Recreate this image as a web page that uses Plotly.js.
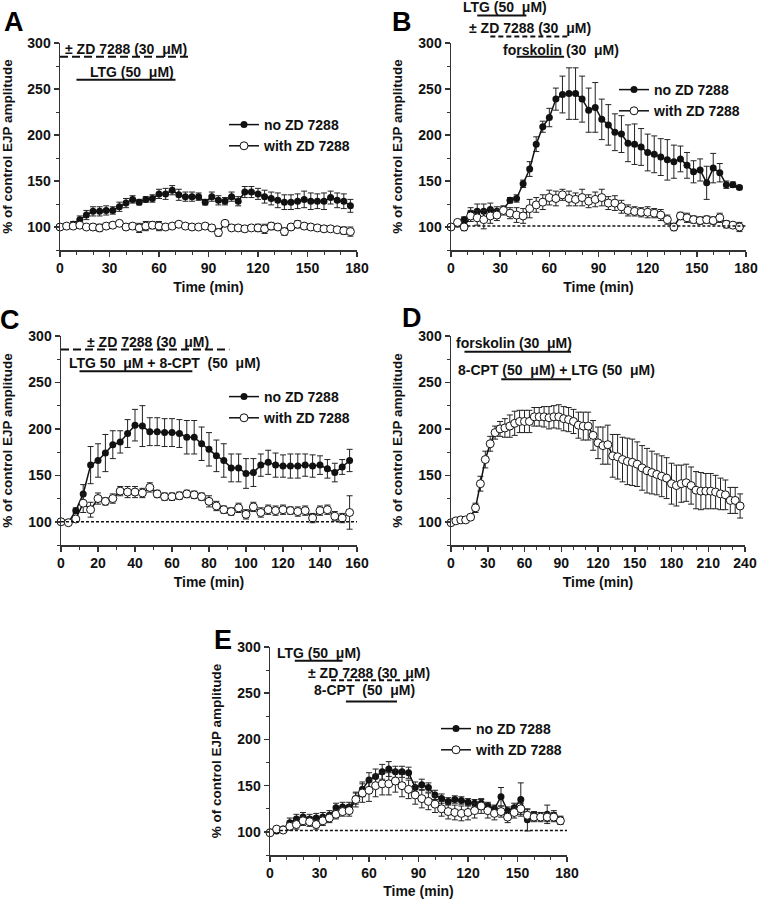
<!DOCTYPE html>
<html>
<head>
<meta charset="utf-8">
<script src="https://cdn.plot.ly/plotly-3.0.1.min.js"></script>
<style>html,body{margin:0;padding:0;background:#fff;}#chart{width:760px;height:899px;}</style>
</head>
<body>
<div id="chart"></div>
<script>
// ---------- data ----------
const timeABE = [0,4,8,12,16,20,24,28,32,36,40,44,48,52,56,60,64,68,72,76,80,84,88,92,96,100,104,108,112,116,120,124,128,132,136,140,144,148,152,156,160,164,168,172,176];
const timeC = [0,4,8,12,16,20,24,28,32,36,40,44,48,52,56,60,64,68,72,76,80,84,88,92,96,100,104,108,112,116,120,124,128,132,136,140,144,148,152,156];
const timeD = [0,4,8,12,16,20,24,28,32,36,40,44,48,52,56,60,64,68,72,76,80,84,88,92,96,100,104,108,112,116,120,124,128,132,136,140,144,148,152,156,160,164,168,172,176,180,184,188,192,196,200,204,208,212,216,220,224,228,232,236];

const A_noZD = [100,101,103,108,113,117,117,118,118,122,126,130,127,130,131,136,136,140,135,133,133,133,127,133,129,128,133,128,138,138,136,133,131,129,127,127,128,130,128,128,128,132,129,128,123];
const A_noZD_err = [0,2,3,4,5,5,5,5,4,5,5,4,3,3,4,5,6,5,6,5,5,4,3,5,5,4,5,5,6,6,6,7,7,8,8,8,8,9,9,8,9,7,8,8,7];
const A_withZD = [100,101,101,102,100,100,99,101,102,104,100,101,99,101,102,101,100,101,103,101,100,100,101,99,94,104,99,99,98,99,99,98,101,100,95,100,103,101,100,99,98,98,97,96,95];
const A_withZD_err = [0,2,2,3,2,3,4,3,3,3,3,3,5,5,4,5,3,2,3,2,2,2,3,3,4,3,3,3,3,3,4,5,4,3,4,3,4,3,3,3,3,3,3,4,5];

const B_noZD = [100,103,108,115,117,117,119,117,119,129,131,147,163,190,209,219,239,244,245,245,239,227,230,217,211,203,201,191,190,187,181,179,176,173,171,174,167,160,162,148,164,159,146,146,143];
const B_noZD_err = [0,2,3,6,8,8,7,5,3,3,4,4,8,8,6,10,12,20,28,28,25,24,27,22,22,20,20,20,22,20,20,20,20,22,18,14,14,12,12,18,16,10,4,3,2];
const B_withZD = [100,105,100,112,110,108,112,113,118,115,113,112,120,124,127,132,131,135,131,130,132,128,130,132,126,126,122,118,117,116,116,115,113,108,100,112,110,108,107,108,107,110,103,102,100];
const B_withZD_err = [0,2,4,6,8,10,8,6,5,6,8,8,10,8,8,8,8,6,8,7,9,7,8,9,7,8,7,6,5,5,6,5,6,5,4,4,5,4,4,4,4,5,4,3,5];

const C_noZD = [100,99,112,130,161,166,174,183,186,195,204,203,197,197,196,196,195,191,191,184,178,171,166,158,158,152,153,161,164,161,160,160,160,161,160,161,157,153,159,166];
const C_noZD_err = [0,1,3,10,20,18,20,15,12,15,17,22,15,15,15,15,15,18,18,18,18,17,18,15,15,16,15,12,13,13,12,13,13,12,12,10,10,10,8,12];
const C_withZD = [100,99,103,120,113,125,122,125,133,132,132,131,137,130,127,127,128,130,129,127,122,117,113,111,115,108,116,110,113,112,113,112,111,112,104,112,113,106,104,110];
const C_withZD_err = [0,1,2,10,8,6,4,5,5,6,6,5,5,4,4,4,4,4,4,4,6,5,4,4,5,5,5,5,5,5,5,4,5,5,5,5,5,5,5,18];

const D_values = [99,101,102,102,105,115,141,167,184,196,200,201,203,206,208,208,208,213,213,213,212,213,213,211,210,208,204,203,203,193,185,182,183,171,170,167,165,164,162,158,155,153,151,149,147,141,139,141,142,139,134,133,133,133,132,130,129,123,123,117];
const D_err = [0,1,1,1,2,5,8,9,8,7,8,10,12,13,12,12,12,10,10,11,12,12,13,13,13,13,14,15,15,16,17,20,21,23,24,24,25,25,24,24,24,23,22,22,22,22,22,20,20,20,20,20,19,19,18,17,16,14,14,13];

const E_noZD = [100,101,103,110,114,116,114,115,116,118,126,127,127,136,146,156,160,165,168,165,165,164,148,151,148,140,136,133,135,134,132,131,131,128,125,138,123,126,135,113,118,117,119,118,113];
const E_noZD_err = [0,1,2,5,5,5,5,5,5,5,5,5,5,6,8,8,8,8,8,6,6,6,6,6,5,5,5,4,4,4,4,4,4,4,4,10,4,5,18,12,4,4,10,5,4];
const E_withZD = [99,103,102,106,108,112,111,108,112,115,119,122,123,135,142,145,150,152,152,155,150,146,140,136,133,130,125,122,121,120,121,123,128,123,120,122,116,121,125,118,116,116,116,116,112];
const E_withZD_err = [0,1,2,4,5,5,5,5,5,5,5,5,6,8,10,12,12,12,12,12,12,10,10,10,9,9,8,8,8,8,8,8,8,8,7,6,6,6,6,6,5,5,5,5,4];

const seriesNames = ['no ZD 7288', 'with ZD 7288'];
const panelLetters = ['A', 'B', 'C', 'D', 'E'];

// treatment periods (min) per panel
const A_zdPeriod = [0, 78], A_ltgPeriod = [10, 70];
const B_ltgPeriod = [16, 46], B_zdPeriod = [24, 72], B_fskPeriod = [40, 69];
const C_zdPeriod = [0, 91], C_ltgCptPeriod = [10, 71];
const D_fskPeriod = [11, 98], D_cptLtgPeriod = [41, 98];
const E_ltgPeriod = [15, 44], E_zdPeriod = [37, 87], E_cptPeriod = [46, 77];

// ---------- layout geometry (pixels) ----------
const W = 760, H = 899;
const FONT = 'Liberation Sans, Arial, sans-serif';
const YMIN = 75, YMAX = 300;
const boxes = {
  A: {l: 60, r: 357, t: 43, b: 250},
  B: {l: 451, r: 746, t: 43, b: 250},
  C: {l: 61, r: 357, t: 336, b: 545},
  D: {l: 451, r: 745, t: 336, b: 545},
  E: {l: 270, r: 567, t: 647, b: 855}
};
const xd = bx => [bx.l / W, bx.r / W];
const ydm = bx => [1 - bx.b / H, 1 - bx.t / H];
// paper y for a value in % units (can be above the axis top)
const py = (bx, v) => { const d = ydm(bx); return d[0] + (v - YMIN) / (YMAX - YMIN) * (d[1] - d[0]); };

const black = '#111';
function series(x, y, err, filled, ax, legendName, name, showlegend) {
  return {
    type: 'scatter', mode: 'lines+markers', x: x, y: y, name: name,
    xaxis: 'x' + ax, yaxis: 'y' + ax,
    legend: legendName, showlegend: showlegend,
    cliponaxis: false,
    line: {color: black, width: 1.5},
    marker: filled ? {symbol: 'circle', size: 7, color: black}
                   : {symbol: 'circle', size: 8, color: '#fff', line: {color: black, width: 1}},
    error_y: {type: 'data', array: err, visible: true, color: '#222', thickness: 1, width: 3}
  };
}

const data = [
  series(timeABE, A_noZD, A_noZD_err, true, '', 'legend', seriesNames[0], true),
  series(timeABE, A_withZD, A_withZD_err, false, '', 'legend', seriesNames[1], true),
  series(timeABE, B_noZD, B_noZD_err, true, '2', 'legend2', seriesNames[0], true),
  series(timeABE, B_withZD, B_withZD_err, false, '2', 'legend2', seriesNames[1], true),
  series(timeC, C_noZD, C_noZD_err, true, '3', 'legend3', seriesNames[0], true),
  series(timeC, C_withZD, C_withZD_err, false, '3', 'legend3', seriesNames[1], true),
  series(timeD, D_values, D_err, false, '4', 'legend', 'forskolin + 8-CPT + LTG', false),
  series(timeABE, E_noZD, E_noZD_err, true, '5', 'legend4', seriesNames[0], true),
  series(timeABE, E_withZD, E_withZD_err, false, '5', 'legend4', seriesNames[1], true)
];

function xaxis(bx, anchor, range, dtick) {
  return {
    domain: xd(bx), anchor: anchor, range: range, tickmode: 'linear', tick0: 0, dtick: dtick,
    showline: true, linecolor: '#333', linewidth: 1.5, ticks: 'outside', ticklen: 5, tickwidth: 1.5, tickcolor: '#333',
    minor: {dtick: 10, tick0: 0, ticks: 'outside', ticklen: 3, tickwidth: 1, tickcolor: '#333', showgrid: false},
    showgrid: false, zeroline: false, fixedrange: true, ticklabeloverflow: 'allow',
    tickfont: {family: FONT, size: 14, weight: 700, color: '#111'},
    title: {text: 'Time (min)', font: {family: FONT, size: 14, weight: 700, color: '#111'}, standoff: 7}
  };
}
function yaxis(bx, anchor) {
  return {
    domain: ydm(bx), anchor: anchor, range: [YMIN, YMAX], tickmode: 'linear', tick0: 0, dtick: 50,
    showline: true, linecolor: '#333', linewidth: 1.5, ticks: 'outside', ticklen: 5, tickwidth: 1.5, tickcolor: '#333',
    minor: {dtick: 25, tick0: 0, ticks: 'outside', ticklen: 3, tickwidth: 1, tickcolor: '#333', showgrid: false},
    showgrid: false, zeroline: false, fixedrange: true, ticklabeloverflow: 'allow',
    tickfont: {family: FONT, size: 14, weight: 700, color: '#111'},
    title: {text: '% of control EJP amplitude', font: {family: FONT, size: 13.5, weight: 700, color: '#111'}, standoff: 12}
  };
}

const shapes = [];
const annotations = [];
function bar(ax, bx, period, v, dash) {
  shapes.push({type: 'line', xref: 'x' + ax, yref: 'paper', x0: period[0], x1: period[1],
    y0: py(bx, v), y1: py(bx, v), line: {color: black, width: 2, dash: dash || 'solid'}});
}
function label(ax, bx, text, t, v) {
  annotations.push({xref: 'x' + ax, yref: 'paper', x: t, y: py(bx, v), text: text, showarrow: false,
    xanchor: 'center', yanchor: 'middle', font: {family: FONT, size: 14, weight: 700, color: '#111'}});
}
function baseline(ax, x0, x1, v) {
  shapes.push({type: 'line', xref: 'x' + ax, yref: 'y' + ax, x0: x0, x1: x1, y0: v, y1: v,
    line: {color: black, width: 1.5, dash: '3px,2px'}});
}
const longDash = '8px,4px', shortDash = '5px,3px';

// Panel A
bar('', boxes.A, A_zdPeriod, 285, longDash);
bar('', boxes.A, A_ltgPeriod, 260);
label('', boxes.A, '± ZD 7288 (30  μM)', 40, 293);
label('', boxes.A, 'LTG (50  μM)', 43.5, 269);
// Panel B
bar('2', boxes.B, B_ltgPeriod, 330);
bar('2', boxes.B, B_zdPeriod, 307, shortDash);
bar('2', boxes.B, B_fskPeriod, 285);
label('2', boxes.B, 'LTG (50  μM)', 33, 339);
label('2', boxes.B, '± ZD 7288 (30  μM)', 48, 316);
label('2', boxes.B, 'forskolin (30  μM)', 67, 292);
baseline('2', 10, 180, 101);
// Panel C
bar('3', boxes.C, C_zdPeriod, 285.5, longDash);
bar('3', boxes.C, C_ltgCptPeriod, 262);
label('3', boxes.C, '± ZD 7288 (30  μM)', 47, 294);
label('3', boxes.C, 'LTG 50  μM + 8-CPT  (50  μM)', 56, 271);
baseline('3', 0, 160, 100);
// Panel D
bar('4', boxes.D, D_fskPeriod, 283);
bar('4', boxes.D, D_cptLtgPeriod, 253.5);
label('4', boxes.D, 'forskolin (30  μM)', 51.5, 292.5);
label('4', boxes.D, '8-CPT (50  μM) + LTG (50  μM)', 86.5, 263);
// Panel E
bar('5', boxes.E, E_ltgPeriod, 285);
bar('5', boxes.E, E_zdPeriod, 264, shortDash);
bar('5', boxes.E, E_cptPeriod, 241);
label('5', boxes.E, 'LTG (50  μM)', 29.5, 293);
label('5', boxes.E, '± ZD 7288 (30  μM)', 60, 271.5);
label('5', boxes.E, '8-CPT  (50  μM)', 57, 253.5);
baseline('5', 6, 180, 101.5);

// panel letters
const letterPos = [[14, 22], [402, 22], [10, 320], [412, 318], [223, 640]];
panelLetters.forEach((L, i) => {
  annotations.push({xref: 'paper', yref: 'paper', x: letterPos[i][0] / W, y: 1 - letterPos[i][1] / H,
    text: L, showarrow: false, xanchor: 'center', yanchor: 'middle',
    font: {family: FONT, size: 27, weight: 700, color: '#000'}});
});

function legendAt(leftPx, topPx) {
  return {x: leftPx / W, y: 1 - topPx / H, xanchor: 'left', yanchor: 'top', bgcolor: 'rgba(0,0,0,0)',
    borderwidth: 0, itemwidth: 30, tracegroupgap: 0,
    font: {family: FONT, size: 14, weight: 700, color: '#111'}};
}

const layout = {
  width: W, height: H, margin: {l: 0, r: 0, t: 0, b: 0},
  paper_bgcolor: '#fff', plot_bgcolor: '#fff',
  font: {family: FONT, color: '#111'},
  xaxis: xaxis(boxes.A, 'y', [0, 180], 30), yaxis: yaxis(boxes.A, 'x'),
  xaxis2: xaxis(boxes.B, 'y2', [0, 180], 30), yaxis2: yaxis(boxes.B, 'x2'),
  xaxis3: xaxis(boxes.C, 'y3', [0, 160], 20), yaxis3: yaxis(boxes.C, 'x3'),
  xaxis4: xaxis(boxes.D, 'y4', [0, 240], 30), yaxis4: yaxis(boxes.D, 'x4'),
  xaxis5: xaxis(boxes.E, 'y5', [0, 180], 30), yaxis5: yaxis(boxes.E, 'x5'),
  legend: legendAt(224, 109),
  legend2: legendAt(614, 74),
  legend3: legendAt(224, 381),
  legend4: legendAt(436, 713),
  shapes: shapes, annotations: annotations, showlegend: true
};

Plotly.newPlot('chart', data, layout, {staticPlot: true, displayModeBar: false});
</script>
</body>
</html>
